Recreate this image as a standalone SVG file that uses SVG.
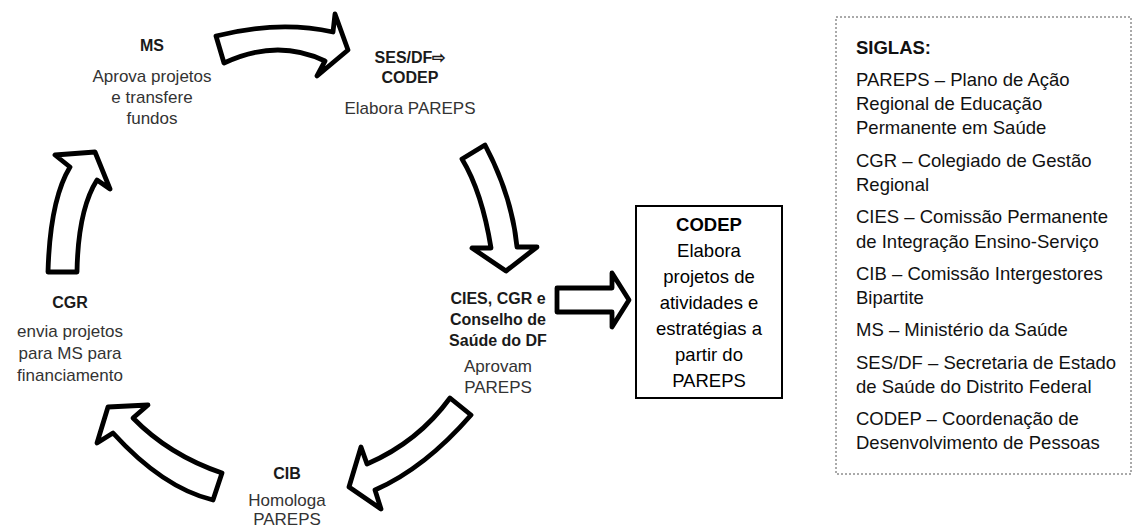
<svg xmlns="http://www.w3.org/2000/svg" width="1136" height="528" viewBox="0 0 1136 528">
<style>
.arrow{fill:#fff;stroke:#000;stroke-width:4.8;stroke-linejoin:round}
.lbl{font-family:"Liberation Sans",Arial,sans-serif;font-size:16px;font-weight:bold;fill:#1a1a1a;text-anchor:middle}
.txt{font-family:"Liberation Sans",Arial,sans-serif;font-size:17px;fill:#333;text-anchor:middle}
.box{font-family:"Liberation Sans",Arial,sans-serif;font-size:18.5px;fill:#000;text-anchor:middle}
.sig{font-family:"Liberation Sans",Arial,sans-serif;font-size:18.5px;fill:#111}
</style>
<rect width="1136" height="528" fill="#fff"/>
<g id="connectors">
<path class="arrow" d="M216,36 Q279,20 333,32 L335,14 L348,50 L317,76 L325,61 Q277,38 224,63 Z"/>
<path class="arrow" d="M462,159 L485,145 Q512,196 517,247 L537,247 L506,271 L472,248 L491,248 Q482,192 462,159 Z"/>
<path class="arrow" d="M450,398 L471,415 Q425,468 375,490 L381,509 L349,487 L361,447 L367,464 Q418,442 450,398 Z"/>
<path class="arrow" d="M222,473 L213,500 Q163,488 113,433 L97,443 L108,407 L148,405 L133,418 Q169,455 222,473 Z"/>
<path class="arrow" d="M48,272 Q50,200 70,167 L55,155 L95,152 L110,189 L97,180 Q78,210 77,272 Z"/>
<path class="arrow" d="M557,288 L612,288 L612,273 L629,300 L612,327 L612,312 L557,312 Z"/>
</g>
<g id="ms">
<text class="lbl" x="152" y="51">MS</text>
<text class="txt" x="152" y="82">Aprova projetos</text>
<text class="txt" x="152" y="103">e transfere</text>
<text class="txt" x="152" y="124">fundos</text>
</g>
<g id="ses">
<text class="lbl" x="410" y="63">SES/DF⇨</text>
<text class="lbl" x="410" y="83">CODEP</text>
<text class="txt" x="410" y="114">Elabora PAREPS</text>
</g>
<g id="cies">
<text class="lbl" x="498" y="304">CIES, CGR e</text>
<text class="lbl" x="498" y="325">Conselho de</text>
<text class="lbl" x="498" y="346">Saúde do DF</text>
<text class="txt" x="498" y="372">Aprovam</text>
<text class="txt" x="498" y="393">PAREPS</text>
</g>
<g id="cib">
<text class="lbl" x="287" y="479">CIB</text>
<text class="txt" x="287" y="506">Homologa</text>
<text class="txt" x="287" y="525">PAREPS</text>
</g>
<g id="cgr">
<text class="lbl" x="70" y="308">CGR</text>
<text class="txt" x="70" y="337">envia projetos</text>
<text class="txt" x="70" y="359">para MS para</text>
<text class="txt" x="70" y="381">financiamento</text>
</g>
<g id="codep">
<rect x="636" y="206" width="146" height="192" fill="#fff" stroke="#000" stroke-width="2"/>
<text class="box" x="709" y="231" font-weight="bold">CODEP</text>
<text class="box" x="709" y="257">Elabora</text>
<text class="box" x="709" y="283">projetos de</text>
<text class="box" x="709" y="309">atividades e</text>
<text class="box" x="709" y="335">estratégias a</text>
<text class="box" x="709" y="361">partir do</text>
<text class="box" x="709" y="387">PAREPS</text>
</g>
<g id="siglas">
<rect x="836" y="17" width="295" height="457" fill="none" stroke="#555" stroke-width="1" stroke-dasharray="2,2"/>
<text class="sig" x="856" y="54" font-weight="bold">SIGLAS:</text>
<text class="sig" x="856" y="86">PAREPS – Plano de Ação</text>
<text class="sig" x="856" y="110">Regional de Educação</text>
<text class="sig" x="856" y="134">Permanente em Saúde</text>
<text class="sig" x="856" y="167">CGR – Colegiado de Gestão</text>
<text class="sig" x="856" y="191">Regional</text>
<text class="sig" x="856" y="223">CIES – Comissão Permanente</text>
<text class="sig" x="856" y="248">de Integração Ensino-Serviço</text>
<text class="sig" x="856" y="280">CIB – Comissão Intergestores</text>
<text class="sig" x="856" y="304">Bipartite</text>
<text class="sig" x="856" y="336">MS – Ministério da Saúde</text>
<text class="sig" x="856" y="369">SES/DF – Secretaria de Estado</text>
<text class="sig" x="856" y="393">de Saúde do Distrito Federal</text>
<text class="sig" x="856" y="425">CODEP – Coordenação de</text>
<text class="sig" x="856" y="449">Desenvolvimento de Pessoas</text>
</g>
</svg>
